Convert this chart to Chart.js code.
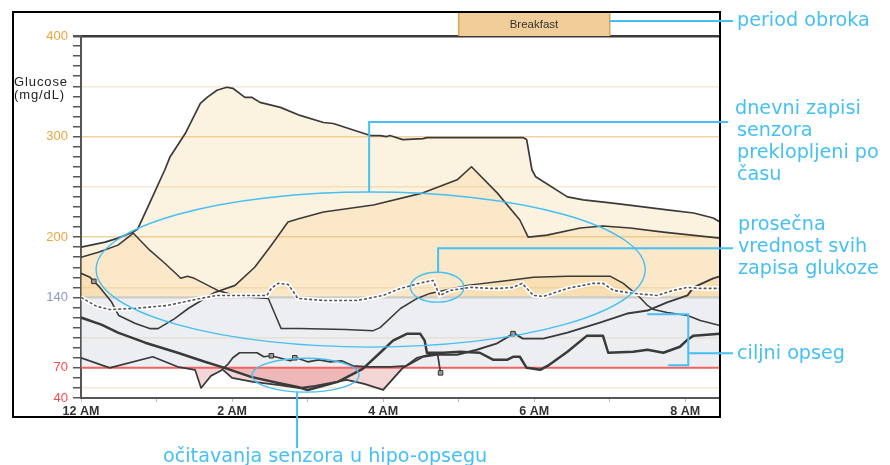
<!DOCTYPE html>
<html>
<head>
<meta charset="utf-8">
<script src="https://cdn.jsdelivr.net/npm/chart.js@4.4.1/dist/chart.umd.min.js"></script>
<style>
  html, body { margin: 0; padding: 0; background: #fff; }
  #wrap { position: relative; width: 890px; height: 465px; overflow: hidden; }
  #agpChart { position: absolute; left: 0; top: 0; }
  .note {
    position: absolute;
    color: #45bff4;
    font-family: "DejaVu Sans", Verdana, sans-serif;
    font-size: 19.2px;
    line-height: 22px;
    white-space: nowrap;
  }
  .ylab {
    position: absolute; left: 14px; top: 75px;
    font: 13px "Liberation Sans", Arial, sans-serif;
    letter-spacing: 0.9px;
    line-height: 13px; color: #222;
  }
  .meal {
    position: absolute; top: 12px; height: 24px;
    text-align: center; color: #333;
    font: 11.5px "Liberation Sans", Arial, sans-serif;
    line-height: 24px;
  }
</style>
</head>
<body>
<div id="wrap">
  <canvas id="agpChart" width="890" height="465"></canvas>
  <div class="ylab">Glucose<br>(mg/dL)</div>
  <div class="meal" style="left:458px;width:152px">Breakfast</div>
  <div class="note" style="left:737px;top:9px">period obroka</div>
  <div class="note" style="left:735px;top:97px">dnevni zapisi<br><span style="margin-left:2px">senzora</span><br><span style="margin-left:2px">preklopljeni po</span><br><span style="margin-left:2px">času</span></div>
  <div class="note" style="left:738px;top:213px">prosečna<br>vrednost svih<br>zapisa glukoze</div>
  <div class="note" style="left:737px;top:342px">ciljni opseg</div>
  <div class="note" style="left:163px;top:445px">očitavanja senzora u hipo-opsegu</div>
</div>
<script>
// hours after midnight, mg/dL
const traceA = [[0,190],[0.32,195],[0.49,199],[0.69,205],[0.75,208],[0.91,234],[1.11,267],[1.18,280],[1.38,303],[1.58,333],[1.67,339],[1.8,346],[1.93,349],[2.01,348],[2.17,339],[2.26,339],[2.37,334],[2.64,329],[2.9,321],[3.21,314],[3.34,313],[3.83,301],[3.96,301],[4.05,300],[4.09,301],[4.26,297],[4.53,298],[4.58,299],[5.85,299],[5.9,297],[5.97,267],[6.02,260],[6.44,240],[6.65,237],[7.01,234],[7.23,232],[7.76,227],[8.11,224],[8.37,219],[8.46,215]];
const traceB = [[0,180],[0.23,185],[0.49,192],[0.66,202],[0.69,204],[0.91,187],[1.11,174],[1.28,162],[1.32,159],[1.41,161],[1.5,159],[1.81,147],[1.95,144],[2.1,141],[2.3,140],[2.48,139],[2.65,109],[2.9,109],[3.5,108],[3.87,107],[3.96,110],[4.23,129],[4.45,139],[4.62,144],[5.11,152],[5.68,157],[5.99,160],[6.44,161],[7.01,161],[7.18,154],[7.4,140],[7.5,132],[7.58,128],[7.76,125],[8.03,122],[8.2,117],[8.46,112]];
const traceC = [[0,164],[0.12,160],[0.25,150],[0.4,136],[0.5,122],[0.72,114],[0.91,109],[1.02,109],[1.24,119],[1.42,129],[1.55,135],[1.77,145],[2.04,152],[2.3,170],[2.52,192],[2.74,215],[2.87,218],[3.21,225],[3.87,232],[4.53,244],[4.98,257],[5.17,270],[5.51,244],[5.81,217],[5.92,200],[6.17,202],[6.61,209],[6.91,211],[7.27,209],[7.71,205],[8.46,199]];
const traceD = [[0,120],[0.27,113],[0.49,105],[0.85,95],[1.28,85],[1.64,76],[1.9,70],[2.25,61],[2.61,55],[2.87,51],[3.0,48],[3.4,56],[3.73,69],[3.96,85],[4.13,97],[4.32,104],[4.49,104],[4.55,97],[4.58,85],[4.8,85],[5.02,86],[5.28,85],[5.46,78],[5.64,78],[5.72,81],[5.81,81],[5.9,70],[6.08,68],[6.2,73],[6.44,86],[6.7,102],[6.91,102],[6.98,85],[7.31,86],[7.5,88],[7.71,85],[7.93,91],[8.03,98],[8.11,102],[8.46,104]];
const traceE = [[0,80],[0.38,70],[0.95,81],[1.28,71],[1.51,68],[1.59,50],[1.72,62],[1.85,67],[1.95,74],[2.01,80],[2.1,85],[2.33,85],[2.42,81],[2.52,82],[2.77,77],[2.85,80],[3.0,76],[3.15,78],[3.3,76],[3.45,77],[3.6,72],[3.8,71],[4.1,71],[4.3,72],[4.45,80],[4.6,83],[4.72,84],[4.76,65]];
const traceF = [[1.88,68],[2.0,60],[2.28,56],[2.6,53],[2.9,50],[3.1,52],[3.52,58],[3.75,54],[4.0,48],[4.26,70],[4.53,81],[4.71,83],[4.98,83],[5.24,88],[5.5,94],[5.68,102],[5.72,105],[5.85,99],[6.12,99],[6.44,105],[6.87,115],[7.23,124],[7.5,127],[7.76,135],[8.03,142],[8.11,150],[8.37,159],[8.46,161]];
const averageTrace = [[0,140],[0.21,131],[0.38,128],[0.69,129],[1.14,132],[1.58,139],[1.8,142],[2.46,142],[2.52,149],[2.61,154],[2.74,153],[2.8,147],[2.87,139],[3.2,137],[3.66,137],[4.0,142],[4.23,149],[4.53,155],[4.66,157],[4.75,142],[4.89,147],[5.15,150],[5.42,149],[5.55,149],[5.72,150],[5.84,154],[5.99,142],[6.12,141],[6.44,149],[6.78,154],[6.91,154],[7.05,147],[7.31,144],[7.63,142],[7.84,147],[8.03,150],[8.2,149],[8.46,149]];
const sensorMarks = [[0.17,156],[2.52,82],[2.83,80],[4.76,65],[5.72,104]];

const dailyTraces = [traceA, traceB, traceC, traceD, traceE, traceF];
const traceWidths = [1.7, 1.5, 1.6, 2.5, 1.7, 1.9];

const targetLow = 70;
const targetHigh = 140;
const mealPeriod = [5, 7];
const xMax = 8.46;
const hourLabels = ["12 AM", "", "2 AM", "", "4 AM", "", "6 AM", "", "8 AM"];
const yLabelValues = [40, 70, 140, 200, 300, 400];

const toPts = (arr) => arr.map(([x, y]) => ({ x, y }));

const datasets = [];

// markers on top
datasets.push({
  data: toPts(sensorMarks), showLine: false, order: 1,
  pointStyle: "rect", pointRadius: 3.2,
  pointBackgroundColor: "#9a9a9a", pointBorderColor: "#333", pointBorderWidth: 1,
});

// average: dashed line with white halo
datasets.push({
  data: toPts(averageTrace), order: 3, fill: false,
  borderColor: "#555", borderWidth: 1.6, borderDash: [3, 2], pointRadius: 0,
});
datasets.push({
  data: toPts(averageTrace), order: 4, fill: false,
  borderColor: "#ffffff", borderWidth: 4.5, pointRadius: 0,
});

// daily lines
dailyTraces.forEach((t, i) => {
  datasets.push({
    data: toPts(t), order: 10, fill: false,
    borderColor: "#3a3a3a", borderWidth: traceWidths[i],
    pointRadius: 0, borderJoinStyle: "round",
  });
});

// limit lines
datasets.push({
  data: toPts([[0, targetLow], [xMax, targetLow]]), order: 20, fill: false,
  borderColor: "#f26262", borderWidth: 2, pointRadius: 0,
});
datasets.push({
  data: toPts([[0, targetHigh], [xMax, targetHigh]]), order: 20, fill: false,
  borderColor: "#cfccc6", borderWidth: 2.2, pointRadius: 0,
});

// hypo fills (below 70) and high fills (above 140)
dailyTraces.forEach((t) => {
  datasets.push({
    data: toPts(t), order: 30, borderWidth: 0, pointRadius: 0,
    fill: { target: { value: targetLow }, above: "rgba(0,0,0,0)", below: "rgba(215,95,95,0.26)" },
  });
  datasets.push({
    data: toPts(t), order: 40, borderWidth: 0, pointRadius: 0,
    fill: { target: { value: targetHigh }, above: "rgba(238,190,100,0.2)", below: "rgba(0,0,0,0)" },
  });
});

// target band 70-140
datasets.push({
  data: toPts([[0, targetHigh], [xMax, targetHigh]]), order: 50, borderWidth: 0, pointRadius: 0,
  fill: { target: { value: targetLow }, above: "rgba(205,210,220,0.38)", below: "rgba(0,0,0,0)" },
});

const notes = {
  id: "notes",
  afterDraw(chart) {
    const { ctx, scales: { x, y }, chartArea: ca } = chart;
    const px = (h) => x.getPixelForValue(h);
    const py = (v) => y.getPixelForValue(v);
    ctx.save();

    // meal box
    const m0 = px(mealPeriod[0]), m1 = px(mealPeriod[1]);
    ctx.fillStyle = "#f1cd99";
    ctx.fillRect(m0, 12, m1 - m0, ca.top - 12);
    ctx.strokeStyle = "#d8a55c";
    ctx.lineWidth = 1.5;
    ctx.beginPath();
    ctx.moveTo(m0, 12); ctx.lineTo(m0, ca.top);
    ctx.moveTo(m1, 12); ctx.lineTo(m1, ca.top);
    ctx.stroke();

    // outer frame
    ctx.strokeStyle = "#000";
    ctx.lineWidth = 2;
    ctx.strokeRect(13, 12, ca.right - 13, 405);

    // blue callouts
    ctx.strokeStyle = "#45bff4";
    const ell = (h0, h1, v0, v1) => {
      const cx = (px(h0) + px(h1)) / 2, cy = (py(v0) + py(v1)) / 2;
      ctx.beginPath();
      ctx.ellipse(cx, cy, Math.abs(px(h1) - px(h0)) / 2, Math.abs(py(v1) - py(v0)) / 2, 0, 0, Math.PI * 2);
      ctx.stroke();
    };
    ctx.lineWidth = 1.4;
    ell(0.2, 7.47, 244.8, 90.6);
    ell(4.36, 5.07, 165, 135.3);
    ell(2.265, 3.68, 79.6, 45.8);

    ctx.lineWidth = 2;
    const textX = ca.right + 13;
    ctx.beginPath();
    ctx.moveTo(m1, 21); ctx.lineTo(textX, 21);
    ctx.moveTo(px(3.815), py(244.8)); ctx.lineTo(px(3.815), py(314.4)); ctx.lineTo(textX - 5, py(314.4));
    ctx.moveTo(px(4.728), py(165)); ctx.lineTo(px(4.728), py(189)); ctx.lineTo(textX, py(189));
    ctx.moveTo(px(7.497), py(123.4)); ctx.lineTo(px(8.04), py(123.4)); ctx.lineTo(px(8.04), py(72.6)); ctx.lineTo(px(7.775), py(72.6));
    ctx.moveTo(px(8.04), py(84.6)); ctx.lineTo(textX, py(84.6));
    ctx.moveTo(px(2.861), py(45.8)); ctx.lineTo(px(2.861), 448);
    ctx.stroke();
    ctx.restore();
  },
};

new Chart(document.getElementById("agpChart"), {
  type: "line",
  data: { datasets },
  plugins: [notes],
  options: {
    responsive: false,
    animation: false,
    events: [],
    layout: { padding: { top: 36, right: 170, left: 0, bottom: 0 } },
    plugins: { legend: { display: false }, tooltip: { enabled: false } },
    scales: {
      x: {
        type: "linear", min: 0, max: xMax,
        afterFit: (s) => { s.height = 67; },
        ticks: {
          stepSize: 1, includeBounds: false, autoSkip: false, maxRotation: 0, padding: 2,
          color: "#333", font: { family: "Liberation Sans, Arial", size: 12.5, weight: "bold" },
          callback: (v) => hourLabels[v] || "",
        },
        grid: { drawOnChartArea: false, tickLength: 4, tickColor: "#bbb" },
        border: { color: "#555", width: 2 },
      },
      y: {
        min: 40, max: 400,
        afterFit: (s) => { s.width = 81; },
        ticks: {
          stepSize: 10, autoSkip: false, padding: 5,
          font: { family: "Liberation Sans, Arial", size: 13 },
          color: (c) => {
            const v = c.tick.value;
            if (v <= targetLow) return "#f24d4d";
            if (v === targetHigh) return "#8f97c4";
            return "#efa43a";
          },
          callback: (v) => (yLabelValues.includes(v) ? String(v) : ""),
        },
        grid: {
          tickLength: 8, tickColor: "#555",
          color: (c) => {
            const v = c.tick.value;
            if (v === 400) return "#3a3a3a";
            if (v === 200 || v === 300) return "#f1d3a2";
            if (v % 50 === 0) return "#f6e8d4";
            return "rgba(0,0,0,0)";
          },
          lineWidth: (c) => (c.tick.value === 400 ? 2.5 : 1.5),
        },
        border: { color: "#555", width: 2 },
      },
    },
  },
});
</script>
</body>
</html>
